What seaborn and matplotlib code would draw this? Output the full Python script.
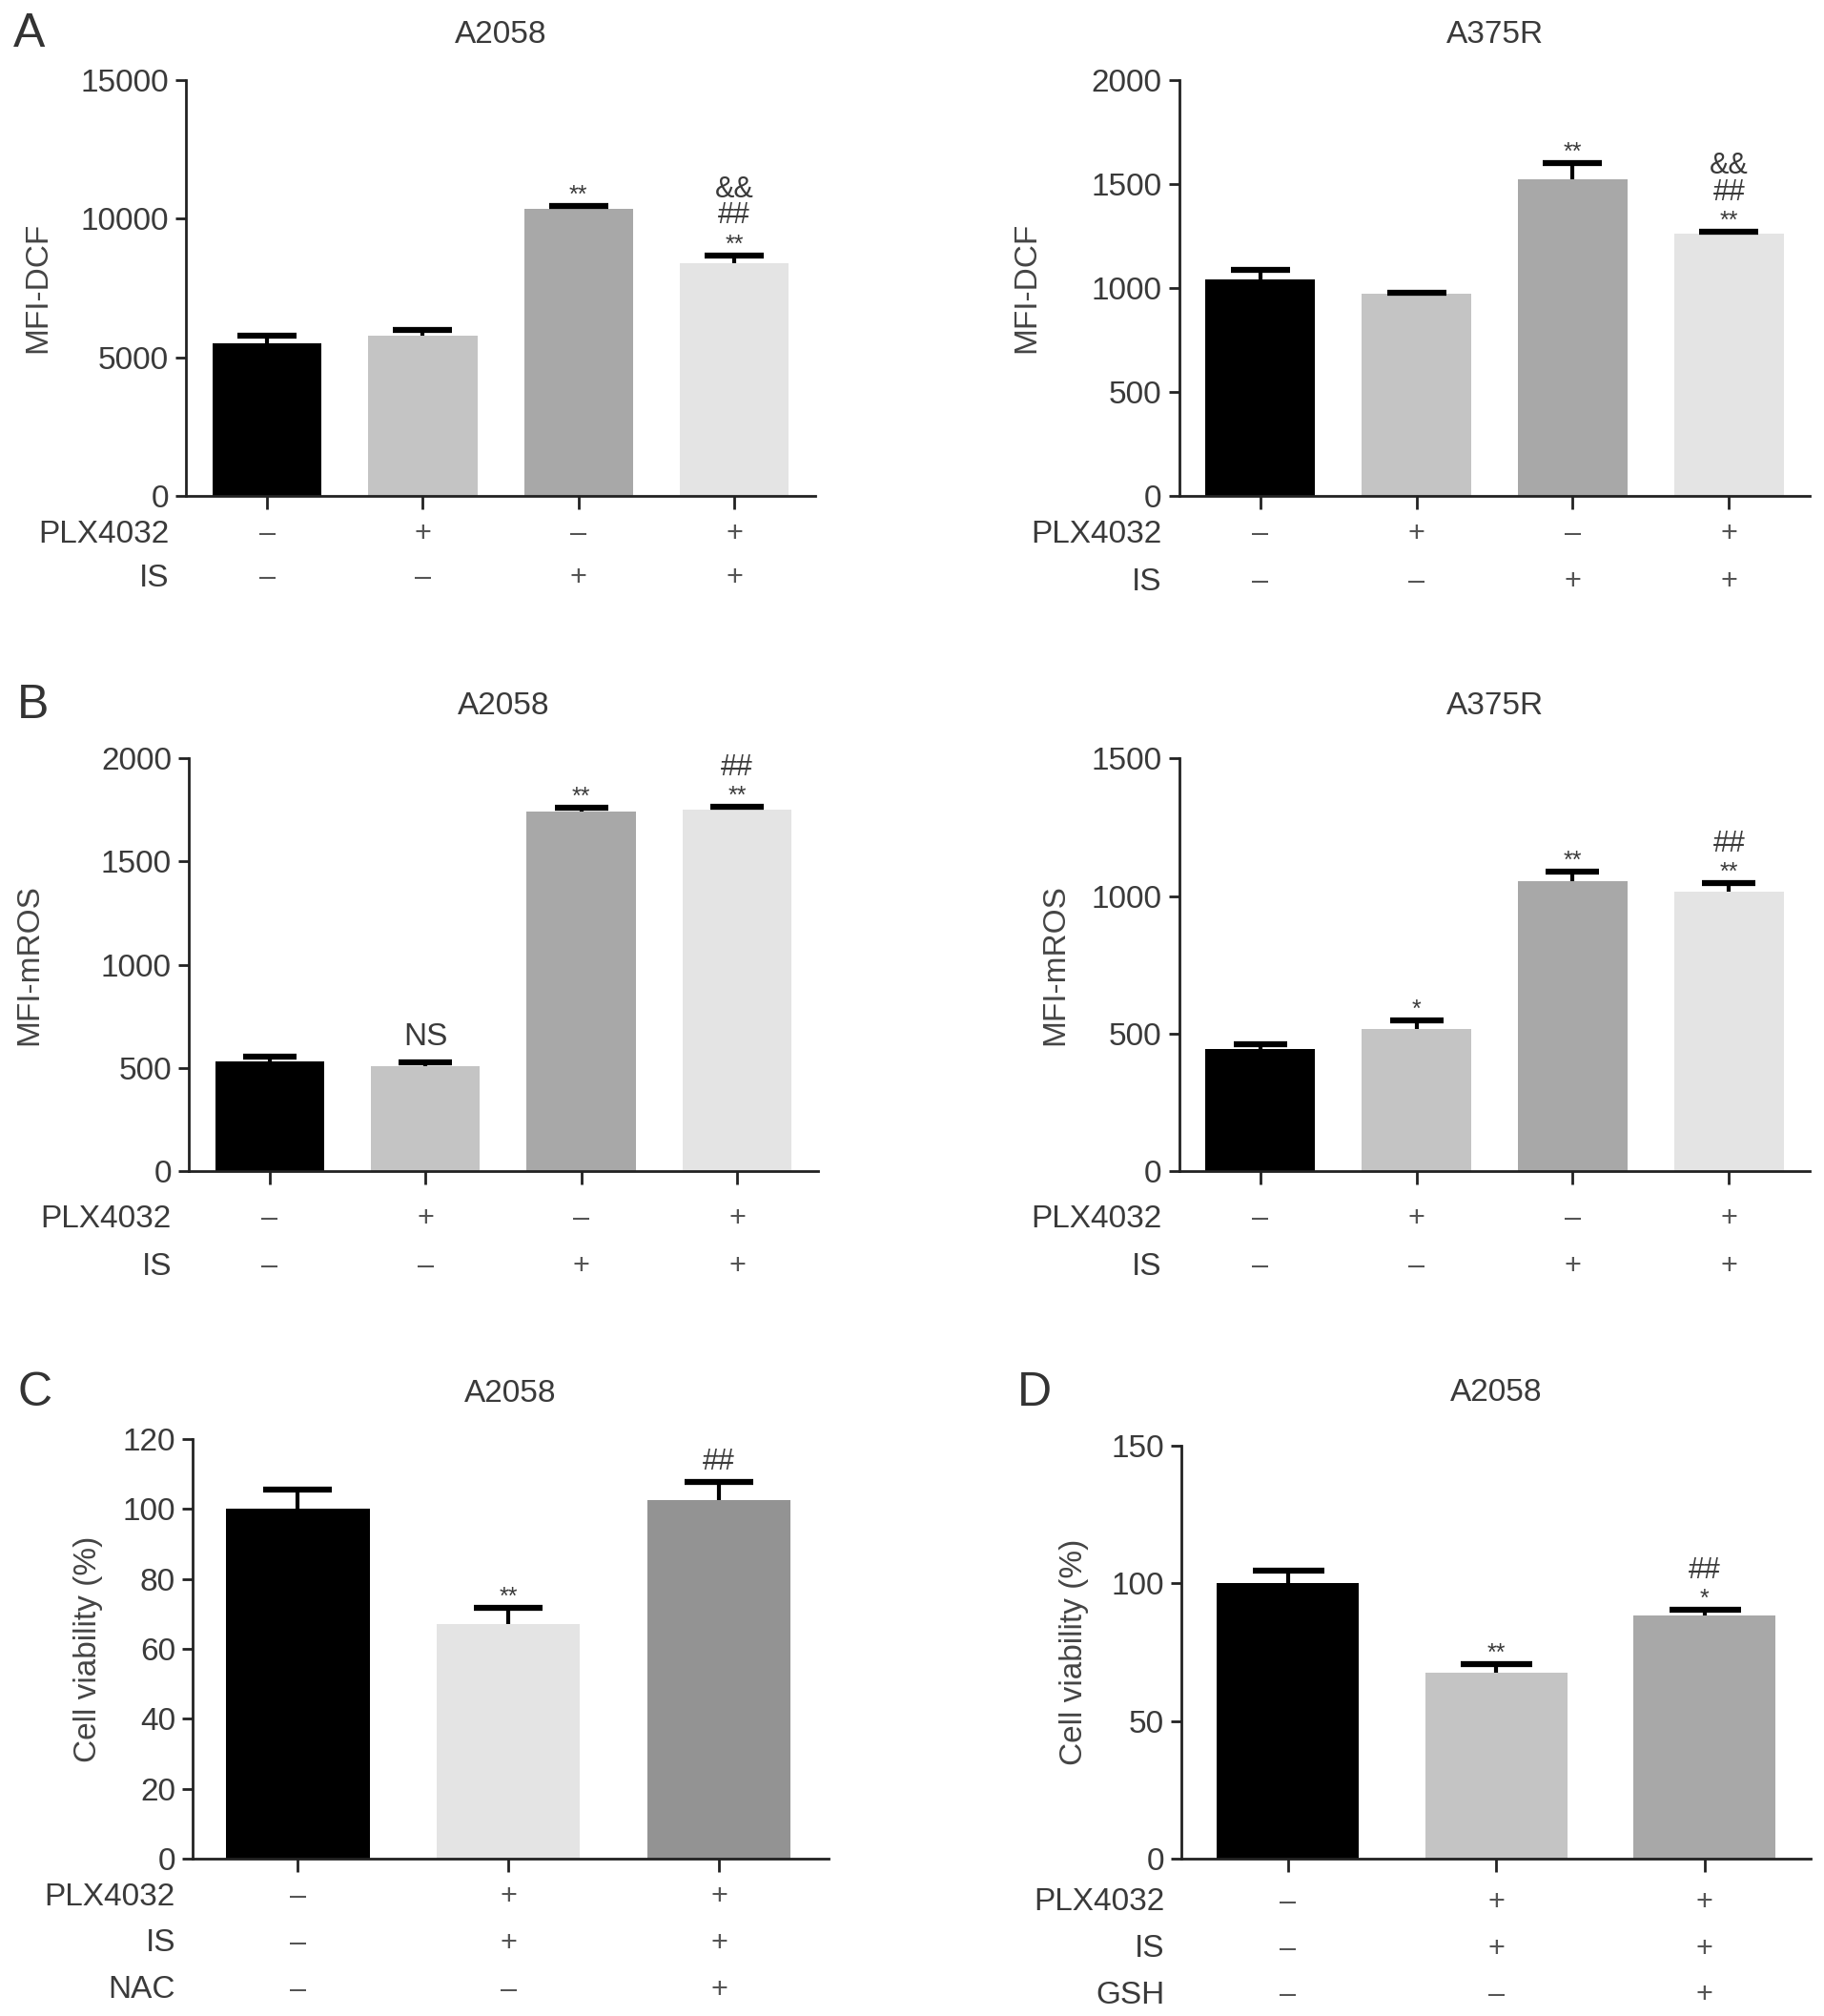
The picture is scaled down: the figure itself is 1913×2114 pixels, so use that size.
import matplotlib
matplotlib.use('Agg')
import pandas as pd
import matplotlib.pyplot as plt
import seaborn as sns

# ---- data ----
plx4 = ['–', '+', '–', '+']
is4 = ['–', '–', '+', '+']
plx3 = ['–', '+', '+']
is3 = ['–', '+', '+']
nac3 = ['–', '–', '+']
gsh3 = ['–', '–', '+']

dcf_a2058 = [5500, 5790, 10340, 8380]
dcf_a2058_err = [280, 200, 100, 290]
dcf_a375r = [1038, 970, 1522, 1258]
dcf_a375r_err = [47, 8, 75, 11]

mros_a2058 = [532, 509, 1742, 1752]
mros_a2058_err = [22, 20, 18, 12]
mros_a375r = [444, 517, 1055, 1016]
mros_a375r_err = [18, 32, 35, 30]

via_nac = [100.1, 67.2, 102.6]
via_nac_err = [5.3, 4.5, 5.1]
via_gsh = [100.2, 67.7, 88.3]
via_gsh_err = [4.3, 3.1, 2.1]

# significance marks per bar, listed from bottom to top
sig_dcf_a2058 = [[], [], ['**'], ['**', '##', '&&']]
sig_dcf_a375r = [[], [], ['**'], ['**', '##', '&&']]
sig_mros_a2058 = [[], ['NS'], ['**'], ['**', '##']]
sig_mros_a375r = [[], ['*'], ['**'], ['**', '##']]
sig_nac = [[], ['**'], ['##']]
sig_gsh = [[], ['**'], ['*', '##']]

pal4 = ['#000000', '#c4c4c4', '#a8a8a8', '#e4e4e4']
pal_nac = ['#000000', '#e4e4e4', '#939393']
pal_gsh = ['#000000', '#c4c4c4', '#a8a8a8']

sns.set_style('ticks')
plt.rcParams['font.family'] = ['Liberation Sans', 'DejaVu Sans']
TXT = '#3a3a3a'

fig = plt.figure(figsize=(19.13, 21.14), dpi=100)


def panel(rect, values, errs, palette, ymax, ystep, title, ylabel, rows, rownames,
          row_off, marks, xlim, width, capsize, ylab_x, tpad):
    ax = fig.add_axes(rect)
    keys = [''.join(c) for c in zip(*rows)]
    df = pd.DataFrame({'grp': keys, 'val': values})
    sns.barplot(data=df, x='grp', y='val', hue='grp', palette=palette, legend=False,
                width=width, saturation=1, errorbar=None, ax=ax, linewidth=0)
    xs = [p.get_x() + p.get_width() / 2 for p in ax.patches]
    eb = ax.errorbar(xs, values, yerr=[[0] * len(values), errs], fmt='none',
                     ecolor='black', elinewidth=3, capsize=capsize, capthick=4.5, zorder=3)
    eb[1][0].set_visible(False)
    ax.set_ylim(0, ymax)
    ax.set_xlim(*xlim)
    ax.set_yticks(range(0, ymax + 1, ystep))
    ax.set_xticks(xs)
    ax.set_xticklabels([])
    ax.set_xlabel('')
    ax.set_ylabel(ylabel, fontsize=24, color='#444444')
    ax.yaxis.set_label_coords(ylab_x, 0.5)
    ax.tick_params(axis='y', labelsize=24, labelcolor=TXT, length=8, width=2, pad=5, color='#222222')
    ax.tick_params(axis='x', length=10, width=2, color='#222222')
    for s in ['left', 'bottom']:
        ax.spines[s].set_linewidth(2)
        ax.spines[s].set_color('#222222')
    sns.despine(ax=ax)
    ax.set_title(title, fontsize=24, color=TXT, pad=tpad)

    # condition rows under the axis
    for name, signs, off in zip(rownames, rows, row_off):
        ax.annotate(name, xy=(0, 0), xycoords='axes fraction', xytext=(-13, -off),
                    textcoords='offset points', ha='right', va='center', fontsize=24, color=TXT)
        for x, s in zip(xs, signs):
            ax.annotate(s, xy=(x, 0), xycoords=('data', 'axes fraction'), xytext=(0, -off),
                        textcoords='offset points', ha='center', va='center', fontsize=22,
                        color='#555555')

    # significance marks
    for x, v, e, ms in zip(xs, values, errs, marks):
        for k, m in enumerate(ms):
            if k == 0:
                off = {'NS': 10, '##': 6}.get(m, 0)
            else:
                off = 20 * k + 1
            size = 18 if '*' in m else (24 if m == 'NS' else 22)
            ax.annotate(m, xy=(x, v + e), xytext=(0, off + 3), textcoords='offset points',
                        ha='center', va='baseline', fontsize=size, color=TXT)
    return ax


row4 = [plx4, is4]
names4 = ['PLX4032', 'IS']

panel([0.102, 0.754, 0.345, 0.2065], dcf_a2058, dcf_a2058_err, pal4, 15000, 5000,
      'A2058', 'MFI-DCF', row4, names4, [29, 62], sig_dcf_a2058, (-0.52, 3.52), 0.7, 22, -0.212, 28)
panel([0.6464, 0.754, 0.346, 0.2065], dcf_a375r, dcf_a375r_err, pal4, 2000, 500,
      'A375R', 'MFI-DCF', row4, names4, [29, 65], sig_dcf_a375r, (-0.52, 3.52), 0.7, 22, -0.218, 28)
panel([0.1035, 0.4189, 0.345, 0.205], mros_a2058, mros_a2058_err, pal4, 2000, 500,
      'A2058', 'MFI-mROS', row4, names4, [36, 72], sig_mros_a2058, (-0.52, 3.52), 0.7, 20, -0.23, 33)
panel([0.6464, 0.4189, 0.346, 0.205], mros_a375r, mros_a375r_err, pal4, 1500, 500,
      'A375R', 'MFI-mROS', row4, names4, [36, 72], sig_mros_a375r, (-0.52, 3.52), 0.7, 20, -0.172, 33)
panel([0.1056, 0.078, 0.3487, 0.2083], via_nac, via_nac_err, pal_nac, 120, 20,
      'A2058', 'Cell viability (%)', [plx3, is3, nac3], ['PLX4032', 'IS', 'NAC'],
      [29, 64, 99], sig_nac, (-0.5, 2.52), 0.68, 26, -0.141, 28)
panel([0.6478, 0.078, 0.345, 0.205], via_gsh, via_gsh_err, pal_gsh, 150, 50,
      'A2058', 'Cell viability (%)', [plx3, is3, gsh3], ['PLX4032', 'IS', 'GSH'],
      [33, 68, 103], sig_gsh, (-0.51, 2.51), 0.68, 27, -0.147, 34)

for letter, x, y in [('A', 0.016, 0.983), ('B', 0.018, 0.650), ('C', 0.019, 0.309), ('D', 0.567, 0.309)]:
    fig.text(x, y, letter, fontsize=36, color='#333333', ha='center', va='center')

fig.savefig('out.png', dpi=100)
